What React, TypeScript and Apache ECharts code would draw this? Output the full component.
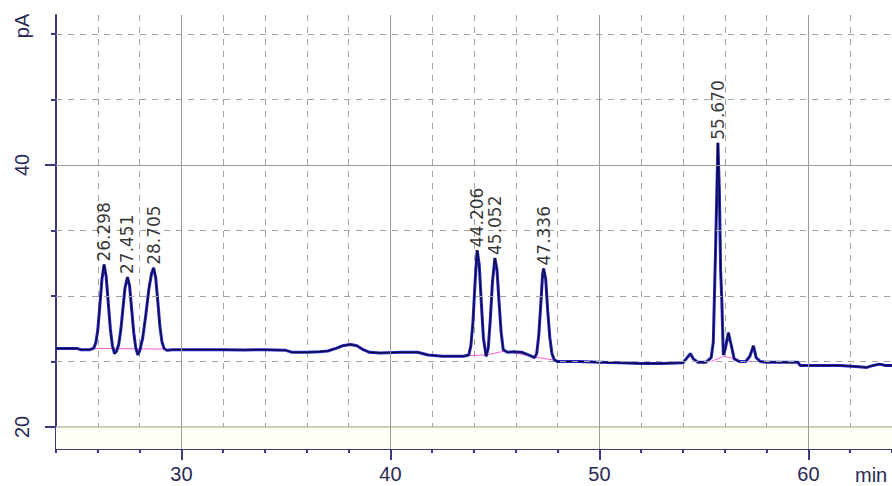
import React, { useEffect, useRef } from "react";
import * as echarts from "echarts";

// ---- data ----
const traceA: [number, number][] = [
  [24.0, 26.0], [24.5, 26.0], [25.0, 26.0], [25.2, 25.9], [25.6, 25.9], [25.8, 26.0],
  [25.9, 26.4], [26.0, 27.4], [26.1, 29.3], [26.2, 31.3], [26.3, 32.4], [26.4, 31.5],
  [26.5, 29.5], [26.6, 27.5], [26.7, 26.2], [26.8, 25.6], [26.9, 25.8], [27.0, 26.3],
  [27.1, 27.4], [27.2, 29.0], [27.3, 30.6], [27.42, 31.45], [27.52, 30.8], [27.62, 29.0],
  [27.72, 27.2], [27.82, 26.0], [27.92, 25.5], [28.02, 25.9], [28.15, 26.8], [28.3, 28.6],
  [28.45, 30.6], [28.57, 31.7], [28.67, 32.15], [28.77, 31.4], [28.87, 29.6], [28.97, 27.7],
  [29.07, 26.5], [29.17, 26.0], [29.3, 25.85], [29.6, 25.9], [30.0, 25.9],
];
const traceB: [number, number][] = [
  [31.0, 25.9], [32.0, 25.9], [33.0, 25.88], [34.0, 25.9], [35.0, 25.85], [35.3, 25.7],
  [36.0, 25.7], [36.6, 25.75], [37.0, 25.8], [37.4, 26.0], [37.7, 26.2], [38.1, 26.3],
  [38.4, 26.2], [38.7, 25.9], [39.0, 25.7], [39.5, 25.65], [40.5, 25.7], [41.3, 25.7],
  [41.8, 25.5], [42.5, 25.4], [43.5, 25.4], [43.75, 25.5], [43.85, 26.2], [43.95, 28.0],
  [44.05, 31.0], [44.15, 33.5], [44.25, 32.4], [44.35, 29.5], [44.45, 26.8], [44.58, 25.4],
  [44.68, 26.0], [44.78, 28.2], [44.88, 31.0], [45.0, 32.9], [45.1, 32.0], [45.2, 29.5],
  [45.3, 27.2], [45.4, 25.9], [45.6, 25.7], [45.9, 25.75], [46.3, 25.7], [46.6, 25.5],
  [46.9, 25.3], [47.0, 25.6], [47.1, 27.0], [47.2, 29.5], [47.28, 31.6], [47.33, 32.1],
  [47.43, 31.3], [47.53, 28.8], [47.63, 26.8], [47.73, 25.6], [47.85, 25.1], [48.0, 25.0],
];
const traceC: [number, number][] = [
  [49.0, 25.0], [50.0, 24.95], [51.0, 24.9], [52.0, 24.85], [53.0, 24.85], [54.0, 24.9],
  [54.2, 25.3], [54.35, 25.6], [54.5, 25.2], [54.7, 24.95], [55.1, 24.95], [55.35, 25.3],
  [55.45, 26.5], [55.55, 33.0], [55.62, 38.0], [55.67, 41.7], [55.74, 38.0], [55.8, 32.0],
  [55.86, 29.5], [55.93, 25.5], [56.03, 26.0], [56.17, 27.2], [56.3, 26.3], [56.45, 25.2],
  [56.7, 25.0], [57.0, 25.0], [57.2, 25.4], [57.37, 26.2], [57.5, 25.3], [57.7, 25.0],
  [58.0, 24.95], [59.5, 24.95], [59.6, 24.7], [61.5, 24.7], [62.4, 24.6], [62.8, 24.55],
  [63.1, 24.7], [63.4, 24.8], [63.7, 24.7], [64.0, 24.7],
];

const baselineSegments: [number, number][][] = [
  [[25.8, 26.0], [29.2, 25.95]],
  [[43.8, 25.45], [44.58, 25.5], [45.5, 25.8], [46.9, 25.35], [47.85, 25.1]],
  [[55.35, 25.0], [55.95, 25.4], [56.5, 25.2]],
  [[57.15, 25.0], [57.6, 25.0]],
];

const peakLabels = ["26.298", "27.451", "28.705", "44.206", "45.052", "47.336", "55.670"];
const peakTimes = [26.3, 27.42, 28.67, 44.15, 45.0, 47.33, 55.67];
const peakHeights = [32.4, 31.45, 32.15, 33.5, 32.9, 32.1, 41.7];

const xMajorTicks = [30, 40, 50, 60];
const yLabelValues = [20, 40];
const yMinorTicks = [25, 30, 35, 45, 50];
const yDashedLines = [25, 30, 35, 45, 50];
const ySolidLines = [40];
const yBottomLine = [20];

const X_MIN = 24;
const X_MAX = 64;
const Y_MIN = 18.32;
const Y_MAX = 51.45;

const AXIS = "#3a3a7c";
const LABEL = "#2a2a55";
const GRID = "#a2a2a2";

export default function App() {
  const ref = useRef<HTMLDivElement>(null);

  useEffect(() => {
    document.body.style.margin = "0";
    if (!ref.current) return;
    const chart = echarts.init(ref.current, undefined, { renderer: "svg" });
    const trace = [...traceA, ...traceB, ...traceC];

    const option: any = {
      animation: false,
      backgroundColor: "#ffffff",
      grid: { left: 56, right: 0, top: 15, bottom: 37, containLabel: false },
      xAxis: [
        {
          type: "value", min: X_MIN, max: X_MAX, interval: 2, position: "bottom",
          axisLine: { show: true, onZero: false, lineStyle: { color: AXIS, width: 2 } },
          axisTick: { show: true, length: 4, lineStyle: { color: AXIS, width: 2 } },
          axisLabel: { show: false },
          splitLine: { show: true, lineStyle: { color: GRID, width: 1, type: [6, 6] } },
        },
        {
          type: "value", min: X_MIN, max: X_MAX, position: "bottom",
          axisLine: { show: false, onZero: false },
          axisTick: { show: true, length: 11, customValues: xMajorTicks, lineStyle: { color: AXIS, width: 2 } },
          axisLabel: {
            show: true, customValues: xMajorTicks, fontSize: 20, fontFamily: "Arial",
            color: LABEL, margin: 15,
          },
          splitLine: { show: false },
        },
      ],
      yAxis: [
        {
          type: "value", min: Y_MIN, max: Y_MAX, position: "left",
          axisLine: { show: true, onZero: false, lineStyle: { color: AXIS, width: 2 } },
          axisTick: { show: true, length: 11, customValues: yLabelValues, lineStyle: { color: AXIS, width: 2 } },
          axisLabel: {
            show: true, customValues: yLabelValues, rotate: 90, fontSize: 20, fontFamily: "Arial",
            color: LABEL, margin: 24, align: "center", verticalAlign: "bottom",
          },
          splitLine: { show: false },
        },
        {
          type: "value", min: Y_MIN, max: Y_MAX, position: "left",
          axisLine: { show: false, onZero: false },
          axisTick: { show: true, length: 5, customValues: yMinorTicks, lineStyle: { color: AXIS, width: 2 } },
          axisLabel: { show: false },
          splitLine: { show: false },
        },
      ],
      graphic: [
        {
          type: "text", x: 22, y: 26, rotation: Math.PI / 2,
          style: { text: "pA", fontSize: 20, fontFamily: "Arial", fill: LABEL, align: "center", verticalAlign: "middle" },
        },
        {
          type: "text", x: 855, y: 475,
          style: { text: "min", fontSize: 20, fontFamily: "Arial", fill: LABEL, align: "left", verticalAlign: "middle" },
        },
      ],
      series: [
        {
          type: "line", data: [], z: 1, silent: true,
          markArea: {
            silent: true,
            itemStyle: { color: "#fefef5" },
            data: [[{ yAxis: Y_MIN }, { yAxis: yBottomLine[0] }]],
          },
          markLine: {
            silent: true, symbol: "none", label: { show: false },
            data: [
              ...yDashedLines.map((v) => ({ yAxis: v, lineStyle: { color: GRID, width: 1, type: [6, 6] } })),
              ...ySolidLines.map((v) => ({ yAxis: v, lineStyle: { color: "#9a9a9a", width: 1, type: "solid" } })),
              ...yBottomLine.map((v) => ({ yAxis: v, lineStyle: { color: "#bcbca4", width: 1.5, type: "solid" } })),
              ...xMajorTicks.map((v) => ({ xAxis: v, lineStyle: { color: "#9a9a9a", width: 1, type: "solid" } })),
            ],
          },
        },
        ...baselineSegments.map((seg) => ({
          type: "line", data: seg, z: 2, silent: true, symbol: "none",
          lineStyle: { color: "#ff5fd0", width: 1 },
        })),
        {
          type: "line", data: trace, z: 3, silent: true, symbol: "none",
          lineStyle: { color: "#2424c0", width: 3 },
        },
        {
          type: "line", data: trace, z: 4, silent: true, symbol: "none",
          lineStyle: { color: "#000000", width: 0.8 },
        },
        {
          type: "scatter", z: 5, silent: true, symbolSize: 0,
          data: peakTimes.map((t, i) => [t, peakHeights[i]]),
          label: {
            show: true, position: "top", distance: 3, rotate: 90, align: "left", verticalAlign: "middle",
            formatter: (p: any) => peakLabels[p.dataIndex],
            fontSize: 17, fontFamily: "DejaVu Sans", color: "#000",
          },
        },
      ],
    };

    chart.setOption(option);
    return () => chart.dispose();
  }, []);

  return <div ref={ref} style={{ width: 892, height: 486 }} />;
}
